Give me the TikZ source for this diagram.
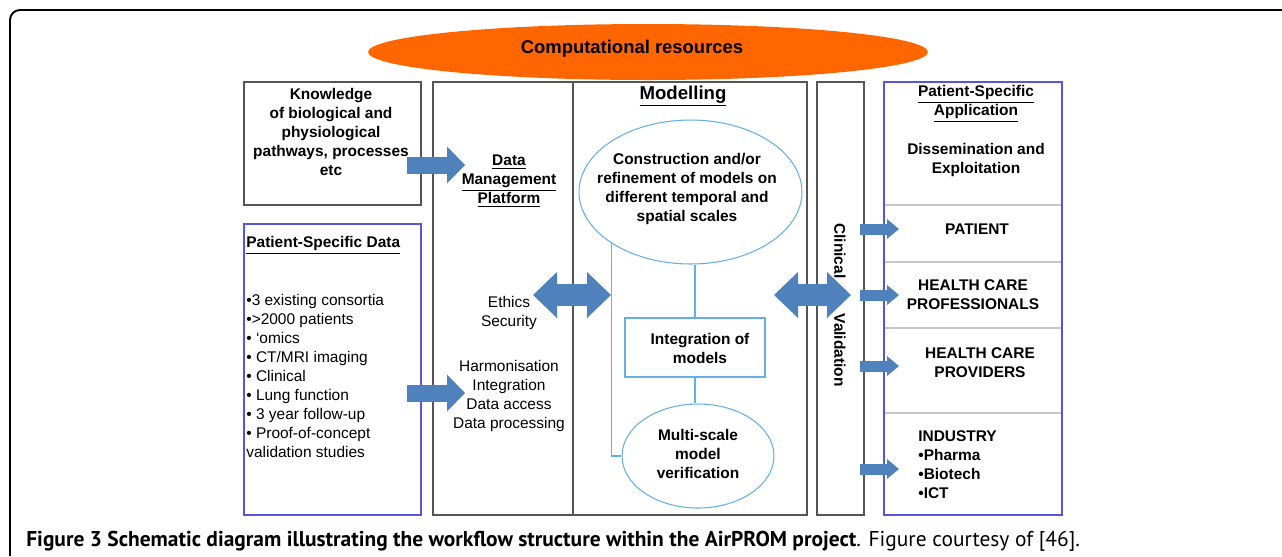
\documentclass[tikz,border=0pt]{standalone}
\usepackage{fontspec}
\setmainfont{Liberation Sans}
\newfontfamily\capfont{PT Sans}
\usetikzlibrary{arrows.meta, shapes.geometric, fit}

\definecolor{resorange}{RGB}{255,102,0}
\definecolor{flowblue}{RGB}{79,129,189}
\definecolor{framegray}{RGB}{85,85,85}
\definecolor{patblue}{RGB}{85,85,225}
\definecolor{modblue}{RGB}{100,175,230}
\definecolor{rulegray}{RGB}{200,200,200}

\tikzset{
  panel/.style={draw=framegray, line width=0.75pt, inner sep=0pt},
  patpanel/.style={draw=patblue, line width=0.8pt, inner sep=0pt},
  modshape/.style={draw=modblue, line width=0.6pt, inner sep=0pt},
  modline/.style={modblue, line width=0.6pt},
  txt/.style={font=\fontsize{8.8}{10.8}\selectfont, align=center, inner sep=0pt},
  btxt/.style={txt, font=\fontsize{8.8}{10.8}\selectfont\bfseries},
  flow/.style={flowblue, line width=0.34cm, -{Triangle[length=0.36cm, width=0.74cm, line width'=0pt]}},
  twoflow/.style={flowblue, line width=0.44cm, {Triangle[length=0.48cm, width=0.92cm, line width'=0pt]}-{Triangle[length=0.48cm, width=0.92cm, line width'=0pt]}},
  outflow/.style={flowblue, line width=0.22cm, -{Triangle[length=0.24cm, width=0.40cm, line width'=0pt]}},
}

\begin{document}
\begin{tikzpicture}[x=0.02cm, y=-0.02cm]
	\useasboundingbox (0,0) rectangle (1282,556);
	\draw[line width=1.1pt, rounded corners=0.2cm] (10,556) -- (10,10) -- (1282,10);

	% resources
	\node[ellipse, fill=resorange, minimum width=11.2cm, minimum height=1.12cm, inner sep=0pt] (comp) at (648,52) {};
	\node[btxt, font=\fontsize{10.5}{12}\selectfont\bfseries] (comptxt) at (632,49) {Computational resources};

	% panels
	\node[panel, fit={(244,82) (421,205)}] (know) {};
	\node[patpanel, fit={(244,224) (421,515)}] (patdata) {};
	\node[panel, fit={(433,82) (573,515)}] (dmp) {};
	\node[panel, fit={(573,82) (807,515)}] (model) {};
	\node[panel, fit={(817,82) (864,515)}] (clin) {};
	\foreach \yy in {205,262,328,413}
		\draw[rulegray, line width=0.6pt] (884,\yy) -- (1062,\yy);
	\node[patpanel, fit={(884,82) (1062,515)}] (app) {};

	% left side
	\node[btxt] (knowtxt) at (331,132) {Knowledge\\of biological and\\physiological\\pathways, processes\\etc};
	\node[btxt, anchor=west] (pdtitle) at (246,245) {\underline{Patient-Specific Data}};
	\node[txt, align=left, anchor=west] (pdlist) at (246,376) {•3 existing consortia\\•>2000 patients\\• ‘omics\\• CT/MRI imaging\\• Clinical\\• Lung function\\• 3 year follow-up\\• Proof-of-concept\\validation studies};

	% data management
	\node[btxt] (dmptitle) at (509,181) {\underline{Data}\\\underline{Management}\\\underline{Platform}};
	\node[txt] (ethics) at (509,313) {Ethics\\Security};
	\node[txt] (harmon) at (509,396) {Harmonisation\\Integration\\Data access\\Data processing};

	% modelling
	\node[btxt, font=\fontsize{10.6}{12}\selectfont\bfseries] (modtitle) at (683,96) {\underline{Modelling}};
	\node[modshape, ellipse, minimum width=4.46cm, minimum height=2.88cm] (constr) at (690.5,192) {};
	\node[btxt] (constrtxt) at (687,189) {Construction and/or\\refinement of models on\\different temporal and\\spatial scales};
	\node[modshape, fit={(625,318) (765,377)}] (integ) {};
	\node[btxt] (integtxt) at (700,348) {Integration of\\models};
	\node[modshape, ellipse, minimum width=3.04cm, minimum height=2.08cm] (multi) at (698,456) {};
	\node[btxt] (multitxt) at (698,454) {Multi-scale\\model\\verification};
	\draw[modline] (integ.north) -- (integ.north |- constr.south);
	\draw[modline] (integ.south) -- (integ.south |- multi.north);
	\draw[modline] (multi.west) -| (constr.south west);

	% validation and application
	\node[btxt, rotate=-90] (clintxt) at (840,305) {Clinical\hspace{20pt}Validation};
	\node[btxt] (apptitle) at (976,104) {\underline{Patient-Specific}\\\underline{Application}};
	\node[btxt] (dissem) at (976,160) {Dissemination and\\Exploitation};
	\node[btxt] (patient) at (977,229) {PATIENT};
	\node[btxt] (hcprof) at (973,295) {HEALTH CARE\\PROFESSIONALS};
	\node[btxt] (hcprov) at (980,363) {HEALTH CARE\\PROVIDERS};
	\node[btxt, align=left, anchor=west] (industry) at (918,465) {INDUSTRY\\•Pharma\\•Biotech\\•ICT};

	% block arrows
	\coordinate (kfrom) at (407,165);
	\coordinate (kto) at (465,165);
	\coordinate (pfrom) at (407,393);
	\coordinate (pto) at (465,393);
	\coordinate (lfrom) at (533,295);
	\coordinate (lto) at (611,295);
	\coordinate (rfrom) at (774,295);
	\coordinate (rto) at (851,295);
	\draw[flow] (kfrom) -- (kto);
	\draw[flow] (pfrom) -- (pto);
	\draw[twoflow] (lfrom) -- (lto);
	\draw[twoflow] (rfrom) -- (rto);
	\foreach \yy [count=\i] in {229,295,366,469} {
		\coordinate (oa\i) at (860,\yy);
		\coordinate (ob\i) at (899,\yy);
		\draw[outflow] (oa\i) -- (ob\i);
	}

	% caption
	\node[anchor=west, inner sep=0pt, font=\capfont\fontsize{12.2}{14}\selectfont] (caption) at (26,541) {\textbf{Figure 3 Schematic diagram illustrating the workflow structure within the AirPROM project}. Figure courtesy of [46].};
\end{tikzpicture}
\end{document}
